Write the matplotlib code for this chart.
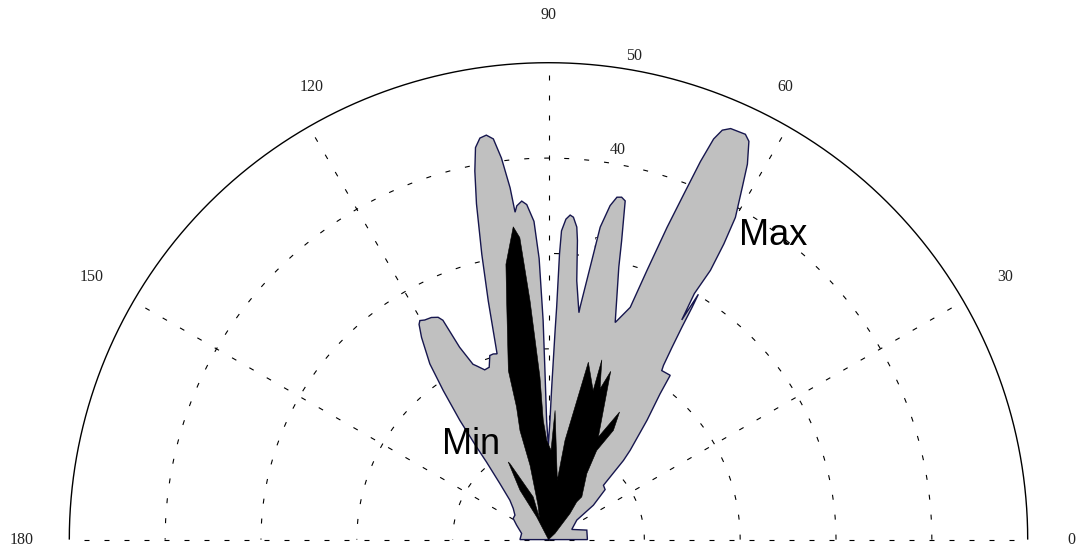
import numpy as np
import matplotlib
matplotlib.use("Agg")
import matplotlib.pyplot as plt

plt.rcParams['lines.scale_dashes'] = False

# ---- data (angle in degrees, radius in plot units) ----
gray_theta = [0.0, 14, 23.7, 34.7, 37.6, 41.6, 44.8, 46.7, 47.7, 50.6, 52.7, 53.6, 56.3, 56.7,
              57.4, 58.0, 58.4, 58.7, 58.88, 59.46, 59.1, 59.45, 60.0, 61.3, 62.2, 63.4, 64.2,
              66.2, 67.1, 67.7, 68.2, 68.7, 69.3, 70.0, 70.7, 73.0, 75.6, 76.3, 77.3, 78.0,
              78.75, 79.6, 80.65, 81.1, 82.3, 82.4, 83.8, 84.5, 84.85, 85.6, 86.2, 86.9, 87.6,
              87.8, 88.0, 88.2, 88.8, 89.3, 90.1, 90.9, 91.2, 91.4, 91.9, 92.6, 93.7, 94.5,
              95.4, 95.8, 96.2, 97.0, 97.8, 98.7, 99.65, 100.5, 101.25, 102.05, 103.1, 104.1,
              105.4, 106.5, 107.6, 108.9, 110.5, 112.4, 113.2, 114.7, 115.6, 116.3, 117.7,
              119.3, 120.3, 120.9, 122.0, 123.9, 125.1, 126.5, 127.7, 128.5, 130.8, 134.3,
              138.4, 143.8, 149.0, 155.5, 167.0, 180.0]
gray_r = [4.06, 4.12, 2.65, 3.59, 5.91, 7.9, 8.08, 11.4, 12.66, 16.2, 19.2, 21.4, 21.3, 21.85,
          23.9, 26.3, 28.6, 30.1, 26.9, 29.95, 32.9, 36.0, 39.0, 42.1, 44.5, 46.7, 47.2,
          47.1, 46.6, 45.4, 42.7, 38.9, 35.0, 30.0, 25.8, 23.8, 29.5, 32.2, 36.4, 36.7,
          36.6, 35.6, 33.2, 30.3, 24.6, 24.0, 27.3, 31.5, 32.9, 33.9, 34.1, 33.65, 32.4,
          30.0, 24.4, 21.9, 16.0, 12.5, 9.9, 12.5, 17.7, 23.0, 29.5, 33.4, 35.2, 35.6,
          35.15, 34.5, 37.1, 40.3, 42.4, 42.9, 42.7, 41.8, 39.4, 36.0, 30.7, 25.8,
          20.2, 20.3, 20.25, 19.1, 19.0, 19.7, 20.0, 22.2, 25.5, 26.0, 26.3,
          26.4, 26.6, 26.3, 25.0, 22.2, 19.1, 15.55, 12.3, 10.4, 7.77, 5.77,
          4.92, 4.34, 4.3, 3.66, 2.88, 2.98]

black_theta = [45, 43.6, 50.6, 53.3, 52.2, 60.0, 61.7, 59.4, 61.0, 64.2, 69.8, 71.2, 73.55,
               73.4, 77.4, 80.6, 81.6, 87.1, 88.4, 91.0, 92.5, 93.0, 94.4, 95.4, 96.4, 98.75,
               99.9, 103.3, 103.5, 104.6, 103.9, 106.9, 112.7, 109.6, 116.8, 117.3, 119.9,
               117.4, 120]
black_r = [0.0, 0.94, 3.54, 4.93, 5.67, 8.0, 10.6, 13.3, 15.3, 11.95, 18.8, 16.7, 19.65,
           16.3, 19.06, 10.55, 6.3, 13.56, 9.37, 10.4, 12.5, 17.05, 25.1, 31.8, 33.0, 29.2,
           25.4, 18.2, 14.3, 11.8, 8.0, 3.77, 2.44, 4.75, 8.93, 9.16, 5.97,
           2.69, 0.0]

theta_ticks = [0, 30, 60, 90, 120, 150, 180]
theta_label_pos = [(0, 54.6), (30, 55.0), (62.5, 53.5), (90, 55.0),
                   (117.5, 53.5), (150, 55.0), (180, 55.0)]
r_ticks = [10, 20, 30, 40, 50]
r_max = 50


def polar_xy(theta_deg, r):
    """Polar (degrees, radius) -> cartesian, the way MATLAB's polar() draws."""
    t = np.deg2rad(np.asarray(theta_deg, dtype=float))
    r = np.asarray(r, dtype=float)
    return r * np.cos(t), r * np.sin(t)


# ---- figure ----
W, H = 1077, 549
fig = plt.figure(figsize=(W / 100, H / 100), dpi=100)
left_px, right_px, top_px, base_px = 69.3, 1027.7, 62.7, 539.6
ax = fig.add_axes([left_px / W, (H - base_px) / H,
                   (right_px - left_px) / W, (base_px - top_px) / H])
ax.set_xlim(-r_max, r_max)
ax.set_ylim(0, r_max)
ax.set_aspect('auto')
ax.axis('off')

grid_kw = dict(color='black', linewidth=0.8, linestyle=(0, (3.6, 10.8)), zorder=0.5,
               clip_on=False)
t_circle = np.linspace(0, 180, 721)
for rv in r_ticks[:-1]:
    ax.plot(*polar_xy(t_circle, np.full_like(t_circle, rv)), **grid_kw)
for tv in theta_ticks:
    ax.plot(*polar_xy([tv, tv], [0, r_max]), **grid_kw)
# outer ring (solid)
ax.plot(*polar_xy(t_circle, np.full_like(t_circle, r_max)), color='black',
        linewidth=1.0, zorder=0.6, clip_on=False, solid_capstyle='butt')

# radial labels (drawn beneath the data, like the original)
for rv in r_ticks:
    x, y = polar_xy(80, rv + 1.5)
    ax.text(x, y, str(rv), ha='center', va='center',
            family='Liberation Serif', fontsize=11.5, color='#222222', zorder=0.8)
# angle labels
for tv, (ta, tr) in zip(theta_ticks, theta_label_pos):
    x, y = polar_xy(ta, tr)
    ax.text(x, y, str(tv), ha='center', va='center',
            family='Liberation Serif', fontsize=11.5, color='#222222', clip_on=False)

ax.fill(*polar_xy(gray_theta, gray_r), facecolor='#c0c0c0', edgecolor='#16164e',
        linewidth=1.0, zorder=2, clip_on=False)
ax.fill(*polar_xy(black_theta, black_r), facecolor='black', edgecolor='black',
        linewidth=0.4, zorder=3, clip_on=False)

x, y = polar_xy(57.3, 36.7)
ax.text(x, y, 'Max', ha='left', va='baseline', family='Liberation Sans',
        fontsize=26, zorder=4)
x, y = polar_xy(141.3, 14.3)
ax.text(x, y, 'Min', ha='left', va='baseline', family='Liberation Sans',
        fontsize=26, zorder=4)

fig.savefig('out.png', dpi=100)
